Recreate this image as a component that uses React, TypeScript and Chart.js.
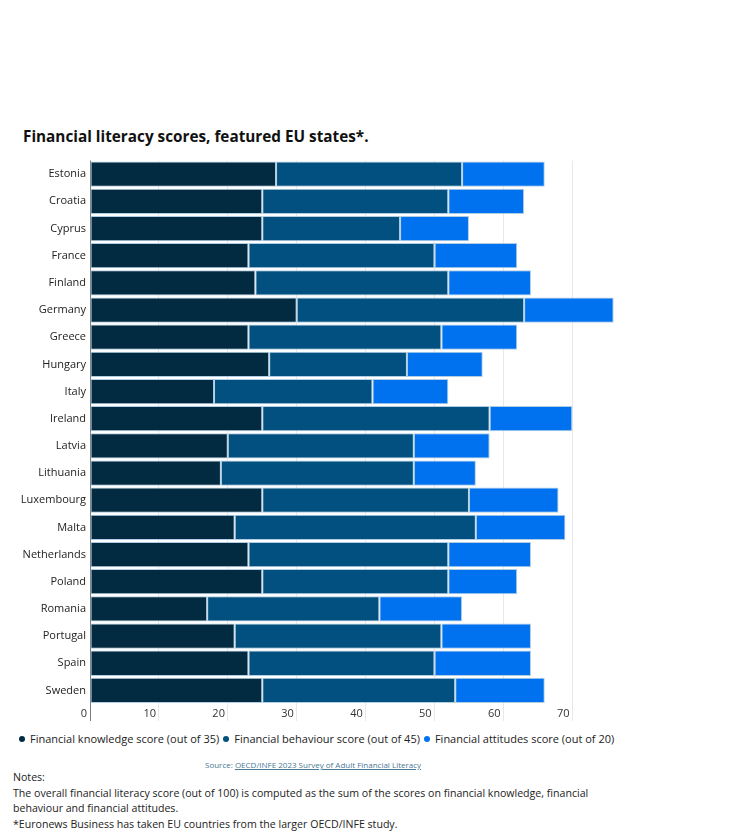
import React, { useEffect, useRef } from "react";
import { Chart, registerables } from "chart.js";

Chart.register(...registerables);

const countries = [
  "Estonia", "Croatia", "Cyprus", "France", "Finland", "Germany", "Greece",
  "Hungary", "Italy", "Ireland", "Latvia", "Lithuania", "Luxembourg", "Malta",
  "Netherlands", "Poland", "Romania", "Portugal", "Spain", "Sweden",
];
const knowledge = [27, 25, 25, 23, 24, 30, 23, 26, 18, 25, 20, 19, 25, 21, 23, 25, 17, 21, 23, 25];
const behaviour = [27, 27, 20, 27, 28, 33, 28, 20, 23, 33, 27, 28, 30, 35, 29, 27, 25, 30, 27, 28];
const attitudes = [12, 11, 10, 12, 12, 13, 11, 11, 11, 12, 11, 9, 13, 13, 12, 10, 12, 13, 14, 13];

const seriesNames = [
  "Financial knowledge score (out of 35)",
  "Financial behaviour score (out of 45)",
  "Financial attitudes score (out of 20)",
];
const seriesColors = ["#022a40", "#02507f", "#0071ef"];
const xTicks = [0, 10, 20, 30, 40, 50, 60, 70];

const FONT = "'Open Sans', sans-serif";

export default function App() {
  const ref = useRef<HTMLCanvasElement | null>(null);

  useEffect(() => {
    if (!ref.current) return;
    const values = [knowledge, behaviour, attitudes];
    const chart = new Chart(ref.current, {
      type: "bar",
      data: {
        labels: countries,
        datasets: seriesNames.map((name, i) => ({
          label: name,
          data: values[i],
          backgroundColor: seriesColors[i],
          borderColor: "rgba(150,190,218,0.75)",
          borderWidth: 1,
          borderSkipped: false,
          categoryPercentage: 1,
          barPercentage: 0.93,
        })),
      },
      options: {
        indexAxis: "y",
        responsive: false,
        animation: false,
        devicePixelRatio: 1,
        layout: { padding: { left: 0, top: 10, right: 130, bottom: 0 } },
        plugins: {
          legend: { display: false },
          tooltip: { enabled: false },
          title: { display: false },
        },
        scales: {
          x: {
            stacked: true,
            min: 0,
            max: 77.5,
            afterFit: (s: any) => { s.height = 22; },
            afterBuildTicks: (s: any) => {
              s.ticks = xTicks.map((v) => ({ value: v }));
            },
            border: { display: false },
            grid: {
              color: (ctx: any) => (ctx.tick && ctx.tick.value === 0 ? "#7a7a7a" : "#e8e8e8"),
              lineWidth: 1,
              tickLength: 17,
              drawTicks: true,
            },
            ticks: {
              align: "end",
              padding: -14,
              color: "#333",
              font: { family: FONT, size: 11 },
              callback: (v: any) => `${v} `,
              maxRotation: 0,
              autoSkip: false,
            },
          },
          y: {
            stacked: true,
            afterFit: (s: any) => { s.width = 90; },
            border: { display: false },
            grid: { display: false, drawTicks: false },
            ticks: {
              padding: 4,
              color: "#222",
              font: { family: FONT, size: 11 },
              autoSkip: false,
            },
          },
        },
      },
    });
    return () => chart.destroy();
  }, []);

  const abs = (style: React.CSSProperties): React.CSSProperties => ({
    position: "absolute",
    margin: 0,
    fontFamily: FONT,
    whiteSpace: "nowrap",
    ...style,
  });

  return (
    <div style={{ position: "absolute", left: 0, top: 0, width: 754, height: 838, background: "#fff", overflow: "hidden" }}>
      <div style={abs({ left: 23, top: 126, fontSize: 15.3, lineHeight: "20px", fontWeight: 700, color: "#111" })}>
        Financial literacy scores, featured EU states*.
      </div>
      <canvas
        ref={ref}
        width={754}
        height={576}
        style={{ position: "absolute", left: 0, top: 150, width: 754, height: 576 }}
      />
      <div style={abs({ left: 19, top: 731, fontSize: 11, lineHeight: "15px", color: "#222", display: "flex", alignItems: "center" })}>
        {seriesNames.map((n, i) => (
          <span key={n} style={{ display: "inline-flex", alignItems: "center", marginRight: 4 }}>
            <span style={{ display: "inline-block", width: 6, height: 6, borderRadius: 3, background: seriesColors[i], marginRight: 5 }} />
            {n}
          </span>
        ))}
      </div>
      <div style={abs({ left: 205, top: 760, fontSize: 8, lineHeight: "10px", color: "#4a7996" })}>
        Source: <span style={{ textDecoration: "underline" }}>OECD/INFE 2023 Survey of Adult Financial Literacy</span>
      </div>
      <div style={abs({ left: 13, top: 770, fontSize: 10.6, lineHeight: "15.5px", color: "#222" })}>
        <div>Notes:</div>
        <div>The overall financial literacy score (out of 100) is computed as the sum of the scores on financial knowledge, financial</div>
        <div>behaviour and financial attitudes.</div>
        <div>*Euronews Business has taken EU countries from the larger OECD/INFE study.</div>
      </div>
    </div>
  );
}
